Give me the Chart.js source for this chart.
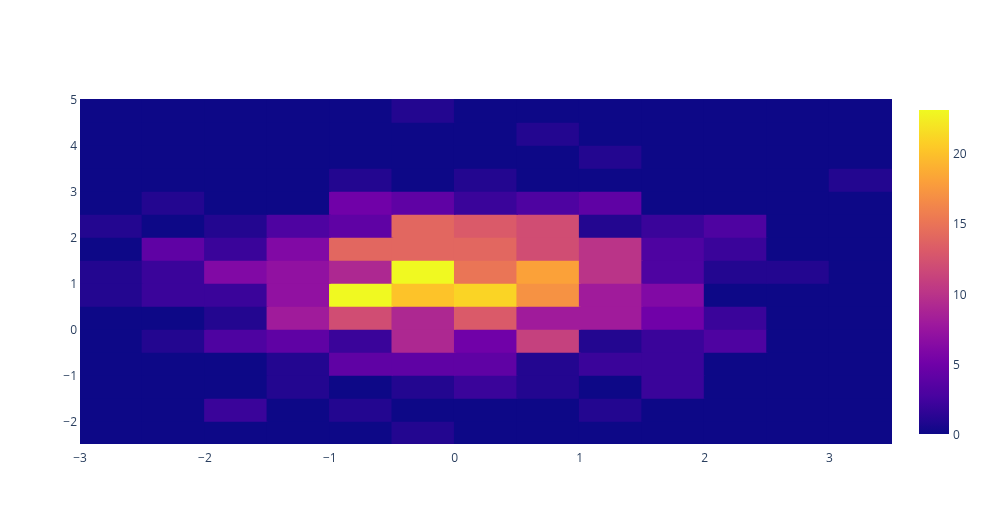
<!DOCTYPE html>
<html>
<head>
<meta charset="utf-8">
<script src="https://cdn.jsdelivr.net/npm/chart.js@4.4.1/dist/chart.umd.min.js"></script>
<style>
  html, body { margin: 0; padding: 0; background: #ffffff; }
  #wrap { position: relative; width: 985px; height: 525px; }
</style>
</head>
<body>
<div id="wrap"><canvas id="c" width="985" height="525"></canvas></div>
<script>
// ---- data ----
const xBinEdges = [-3, -2.5, -2, -1.5, -1, -0.5, 0, 0.5, 1, 1.5, 2, 2.5, 3, 3.5];
const yBinEdges = [-2.5, -2, -1.5, -1, -0.5, 0, 0.5, 1, 1.5, 2, 2.5, 3, 3.5, 4, 4.5, 5];

// counts per y-bin (bottom row first), one value per x-bin
const countsYm2p5 = [0,0,0,0,0,1,0,0,0,0,0,0,0];
const countsYm2p0 = [0,0,2,0,1,0,0,0,1,0,0,0,0];
const countsYm1p5 = [0,0,0,1,0,1,2,1,0,2,0,0,0];
const countsYm1p0 = [0,0,0,1,4,4,4,1,2,2,0,0,0];
const countsYm0p5 = [0,1,3,4,2,9,5,11,1,2,3,0,0];
const countsY0p0  = [0,0,1,8,12,9,13,8,8,5,2,0,0];
const countsY0p5  = [1,2,2,7,23,20,21,17,8,6,0,0,0];
const countsY1p0  = [1,2,6,7,9,23,15,18,10,3,1,1,0];
const countsY1p5  = [0,4,2,6,14,14,14,12,10,3,2,0,0];
const countsY2p0  = [1,0,1,3,4,14,13,12,1,2,3,0,0];
const countsY2p5  = [0,1,0,0,5,4,2,3,4,0,0,0,0];
const countsY3p0  = [0,0,0,0,1,0,1,0,0,0,0,0,1];
const countsY3p5  = [0,0,0,0,0,0,0,0,1,0,0,0,0];
const countsY4p0  = [0,0,0,0,0,0,0,1,0,0,0,0,0];
const countsY4p5  = [0,0,0,0,0,1,0,0,0,0,0,0,0];

const countRows = [countsYm2p5, countsYm2p0, countsYm1p5, countsYm1p0, countsYm0p5,
                   countsY0p0, countsY0p5, countsY1p0, countsY1p5, countsY2p0,
                   countsY2p5, countsY3p0, countsY3p5, countsY4p0, countsY4p5];

const xTickValues = [-3, -2, -1, 0, 1, 2, 3];
const yTickValues = [-2, -1, 0, 1, 2, 3, 4, 5];
const colorbarTicks = [0, 5, 10, 15, 20];

// ---- plasma colour scale ----
const plasma = [
  [0, '#0d0887'], [0.1111, '#46039f'], [0.2222, '#7201a8'], [0.3333, '#9c179e'],
  [0.4444, '#bd3786'], [0.5556, '#d8576b'], [0.6667, '#ed7953'], [0.7778, '#fb9f3a'],
  [0.8889, '#fdca26'], [1, '#f0f921']
];
function hexToRgb(h) { return [parseInt(h.slice(1,3),16), parseInt(h.slice(3,5),16), parseInt(h.slice(5,7),16)]; }
function plasmaColor(t) {
  t = Math.max(0, Math.min(1, t));
  for (let i = 1; i < plasma.length; i++) {
    if (t <= plasma[i][0]) {
      const [t0, c0] = plasma[i-1], [t1, c1] = plasma[i];
      const f = (t - t0) / (t1 - t0);
      const a = hexToRgb(c0), b = hexToRgb(c1);
      return 'rgb(' + a.map((v, k) => Math.round(v + (b[k] - v) * f)).join(',') + ')';
    }
  }
  return plasma[plasma.length-1][1];
}

const zMax = Math.max(...countRows.flat());
const zMin = 0;

const cells = [];
const cellColors = [];
countRows.forEach((row, r) => {
  row.forEach((v, c) => {
    cells.push({ x: (xBinEdges[c] + xBinEdges[c+1]) / 2, y: [yBinEdges[r], yBinEdges[r+1]], v: v });
    cellColors.push(plasmaColor((v - zMin) / (zMax - zMin)));
  });
});

const fmt = v => (v < 0 ? '\u2212' + Math.abs(v) : String(v));

Chart.defaults.font.family = "'Open Sans', sans-serif";
Chart.defaults.font.size = 12;
Chart.defaults.color = '#2a3f5f';

const colorbarPlugin = {
  id: 'colorbar',
  afterDraw(chart) {
    const ctx = chart.ctx;
    const left = 919, width = 30, top = 110, bottom = 434;
    const g = ctx.createLinearGradient(0, bottom, 0, top);
    for (let i = 0; i <= 50; i++) g.addColorStop(i / 50, plasmaColor(i / 50));
    ctx.save();
    ctx.fillStyle = g;
    ctx.fillRect(left, top, width, bottom - top);
    ctx.fillStyle = '#2a3f5f';
    ctx.font = "12px 'Open Sans', sans-serif";
    ctx.textAlign = 'left';
    ctx.textBaseline = 'middle';
    colorbarTicks.forEach(v => {
      const y = bottom - (v - zMin) / (zMax - zMin) * (bottom - top);
      ctx.fillText(fmt(v), left + width + 4, y + 2);
    });
    ctx.restore();
  }
};

new Chart(document.getElementById('c'), {
  type: 'bar',
  data: {
    datasets: [{
      data: cells,
      backgroundColor: cellColors,
      borderWidth: 0,
      inflateAmount: 0.8,
      clip: 0,
      barPercentage: 1,
      categoryPercentage: 1
    }]
  },
  options: {
    responsive: false,
    animation: false,
    layout: { padding: { left: 0, right: 93, top: 99, bottom: 51 } },
    plugins: { legend: { display: false }, tooltip: { enabled: false } },
    scales: {
      x: {
        type: 'linear', min: -3, max: 3.5, offset: false,
        grid: { display: false, offset: false, drawTicks: false },
        border: { display: false },
        afterBuildTicks: s => { s.ticks = xTickValues.map(v => ({ value: v })); },
        afterFit: s => { s.height = 30; },
        ticks: { padding: 7, maxRotation: 0, autoSkip: false, callback: v => fmt(v) }
      },
      y: {
        type: 'linear', min: -2.5, max: 5, beginAtZero: false,
        grid: { display: false, drawTicks: false },
        border: { display: false },
        afterBuildTicks: s => { s.ticks = yTickValues.map(v => ({ value: v })); },
        afterFit: s => { s.width = 80; },
        ticks: { padding: 3, labelOffset: 2, autoSkip: false, callback: v => fmt(v) }
      }
    }
  },
  plugins: [colorbarPlugin]
});
</script>
</body>
</html>
